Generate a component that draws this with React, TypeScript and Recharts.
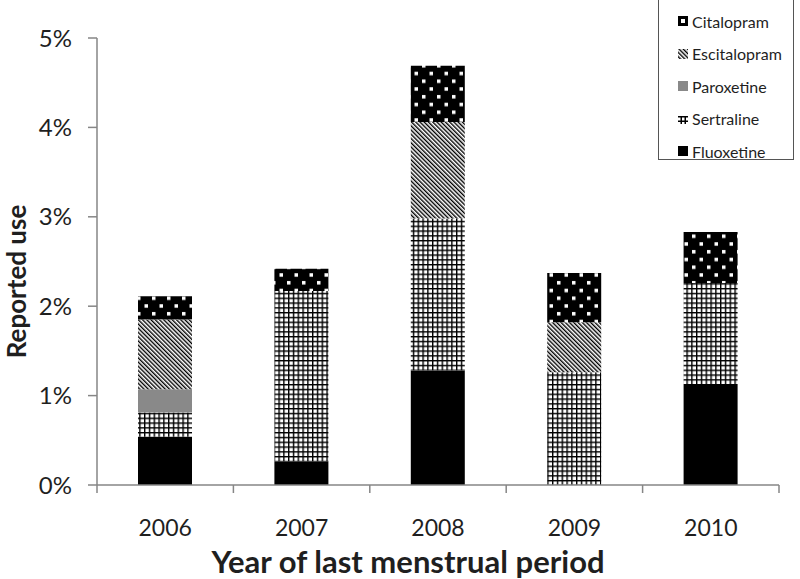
import React from 'react';
import { BarChart, Bar, XAxis, YAxis, Legend } from 'recharts';

// reported use (%) by year of last menstrual period
const years = ['2006', '2007', '2008', '2009', '2010'];
const fluoxetine = [0.54, 0.26, 1.28, 0, 1.13];
const sertraline = [0.27, 1.91, 1.7, 1.26, 1.13];
const paroxetine = [0.26, 0, 0, 0, 0];
const escitalopram = [0.78, 0, 1.08, 0.56, 0];
const citalopram = [0.26, 0.25, 0.63, 0.55, 0.57];
const yTicks = [0, 1, 2, 3, 4, 5];
// legend lists the top of the stack first
const legendOrder = ['Citalopram', 'Escitalopram', 'Paroxetine', 'Sertraline', 'Fluoxetine'];

const data = years.map((year, i) => ({
  year,
  Fluoxetine: fluoxetine[i],
  Sertraline: sertraline[i],
  Paroxetine: paroxetine[i],
  Escitalopram: escitalopram[i],
  Citalopram: citalopram[i],
}));

const FONT = 'Lato, "Open Sans", sans-serif';
const AXIS = '#868686';
const TEXT = '#1f1f1f';

const W = 800;
const H = 579;
const MARGIN = { top: 38, right: 21, bottom: 0, left: 0 };
const Y_AXIS_W = 97;
const BAND = (W - MARGIN.left - MARGIN.right - Y_AXIS_W) / years.length;

const Patterns = () => (
  <svg width={0} height={0} style={{ position: 'absolute' }}>
    <defs>
      <pattern id="dots" patternUnits="userSpaceOnUse" width={15} height={15.5}>
        <rect width={15} height={15.5} fill="#000" />
        <rect x={2} y={2} width={3.5} height={3.5} fill="#fff" />
        <rect x={9.5} y={9.75} width={3.5} height={3.5} fill="#fff" />
      </pattern>
      <pattern id="diag" patternUnits="userSpaceOnUse" width={3} height={3} patternTransform="rotate(-45)">
        <rect width={3} height={3} fill="#fff" />
        <rect width={1.4} height={3} fill="#000" />
      </pattern>
      <pattern id="grid" patternUnits="userSpaceOnUse" width={4.8} height={4.8}>
        <rect width={4.8} height={4.8} fill="#fff" />
        <rect width={1.4} height={4.8} fill="#000" />
        <rect width={4.8} height={1.4} fill="#000" />
      </pattern>
    </defs>
  </svg>
);

const XTick = (props: any) => {
  const { x, y, payload, index } = props;
  const half = BAND / 2;
  return (
    <g>
      <line x1={x - half} x2={x - half} y1={y - 8} y2={y} stroke={AXIS} strokeWidth={1.5} />
      {index === years.length - 1 && (
        <line x1={x + half} x2={x + half} y1={y - 8} y2={y} stroke={AXIS} strokeWidth={1.5} />
      )}
      <text x={x} y={y} dy={43} textAnchor="middle" fill={TEXT} fontSize={23} fontFamily={FONT}>
        {payload.value}
      </text>
    </g>
  );
};

const YLabel = (props: any) => {
  const { viewBox } = props;
  const cx = viewBox.x + 26;
  const cy = viewBox.y + viewBox.height / 2 + 20;
  return (
    <text x={cx} y={cy} transform={`rotate(-90 ${cx} ${cy})`} textAnchor="middle"
      fill={TEXT} fontSize={26} fontWeight="bold" fontFamily={FONT}>
      Reported use
    </text>
  );
};

const XLabel = (props: any) => {
  const { viewBox } = props;
  const cx = viewBox.x + viewBox.width / 2 - 30;
  return (
    <text x={cx} y={viewBox.y + 88} textAnchor="middle"
      fill={TEXT} fontSize={31} fontWeight="bold" fontFamily={FONT}>
      Year of last menstrual period
    </text>
  );
};

const LegendIcon = ({ name, fill }: { name: string; fill: string }) => {
  if (name === 'Citalopram') {
    return (
      <svg width={10} height={10}>
        <rect width={10} height={10} fill="#000" />
        <rect x={3} y={3} width={4} height={4} fill="#fff" />
      </svg>
    );
  }
  if (name === 'Sertraline') {
    return (
      <svg width={10} height={10}>
        <rect x={0} y={2} width={10} height={1.5} fill="#000" />
        <rect x={0} y={6.5} width={10} height={1.5} fill="#000" />
        <rect x={2.5} y={2} width={1.5} height={8} fill="#000" />
        <rect x={6.5} y={2} width={1.5} height={8} fill="#000" />
      </svg>
    );
  }
  return (
    <svg width={10} height={10}>
      <rect width={10} height={10} fill={fill} />
    </svg>
  );
};

const LegendBox = (props: any) => {
  const payload = props.payload || [];
  const items = legendOrder
    .map((name) => payload.find((p: any) => p.value === name))
    .filter(Boolean);
  return (
    <div style={{
      border: '1.5px solid #555', width: 136, height: 162, boxSizing: 'border-box',
      paddingTop: 6, background: '#fff', fontFamily: FONT,
    }}>
      {items.map((item: any) => (
        <div key={item.value} style={{ display: 'flex', alignItems: 'center', height: 32.5, paddingLeft: 19 }}>
          <LegendIcon name={item.value} fill={item.color} />
          <span style={{ marginLeft: 4, fontSize: 16, color: TEXT }}>{item.value}</span>
        </div>
      ))}
    </div>
  );
};

const fills: Record<string, string> = {
  Fluoxetine: '#000',
  Sertraline: 'url(#grid)',
  Paroxetine: '#898989',
  Escitalopram: 'url(#diag)',
  Citalopram: 'url(#dots)',
};

export default function App() {
  return (
    <div style={{ position: 'absolute', left: 0, top: 0, width: W, height: H, background: '#fff' }}>
      <Patterns />
      <BarChart width={W} height={H} data={data} margin={MARGIN}>
        <XAxis
          dataKey="year"
          height={94}
          axisLine={{ stroke: AXIS, strokeWidth: 1.5 }}
          tickLine={false}
          tickSize={8}
          tickMargin={0}
          tick={<XTick />}
          interval={0}
          label={<XLabel />}
        />
        <YAxis
          width={Y_AXIS_W}
          domain={[0, 5]}
          ticks={yTicks}
          tickFormatter={(v: number) => `${v}%`}
          axisLine={{ stroke: AXIS, strokeWidth: 1.5 }}
          tickLine={{ stroke: AXIS, strokeWidth: 1.5 }}
          tickSize={9}
          tickMargin={16}
          tick={{ fill: TEXT, fontSize: 24, fontFamily: FONT }}
          label={<YLabel />}
        />
        <Legend
          layout="horizontal"
          verticalAlign="middle"
          align="center"
          content={<LegendBox />}
          wrapperStyle={{ top: -2, left: 658, width: 136, height: 162 }}
        />
        {Object.keys(fills).map((key) => (
          <Bar key={key} dataKey={key} stackId="a" fill={fills[key]} barSize={54} isAnimationActive={false} />
        ))}
      </BarChart>
    </div>
  );
}
